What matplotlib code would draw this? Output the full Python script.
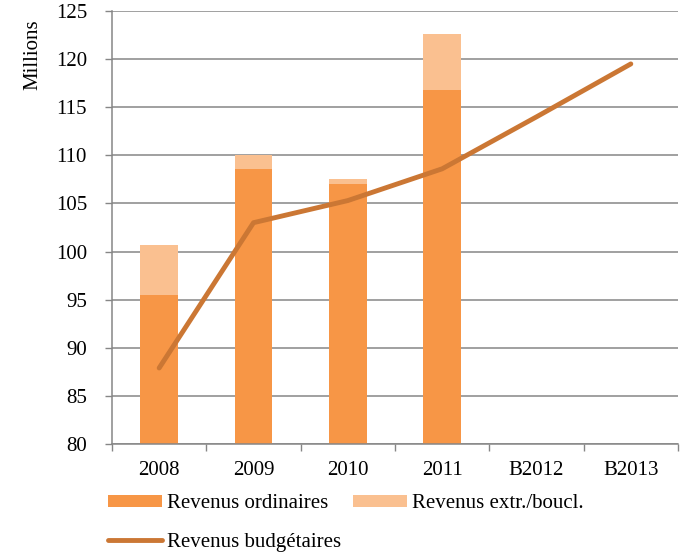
import matplotlib.pyplot as plt
import numpy as np

plt.rcParams['font.family'] = ['Liberation Serif', 'DejaVu Serif']

categories = ['2008', '2009', '2010', '2011', 'B2012', 'B2013']
ordinaires = [95.5, 108.6, 107.05, 116.8]
extraordinaires = [5.2, 1.4, 0.45, 5.85]
budgetaires = [87.9, 103.0, 105.3, 108.6, 114.0, 119.5]

fig = plt.figure(figsize=(6.8, 5.55), dpi=100)
ax = fig.add_axes([112 / 680, 1 - 444 / 555, 566 / 680, 433 / 555])

x = np.arange(len(categories))
xb = x[:len(ordinaires)]
base = 80
ax.bar(xb, np.array(ordinaires) - base, bottom=base, width=0.4,
       color='#F79646', label='Revenus ordinaires', zorder=2)
ax.bar(xb, extraordinaires, bottom=ordinaires, width=0.4,
       color='#FAC090', label='Revenus extr./boucl.', zorder=2)
ax.plot(x, budgetaires, color='#CB7734', lw=3.5, solid_capstyle='round',
        label='Revenus budgétaires', zorder=3)

ax.set_xlim(-0.5, len(categories) - 0.5)
ax.set_ylim(80, 125)
ax.set_yticks(range(80, 126, 5))
ax.set_xticks(x)
ax.set_xticklabels(categories)
ax.set_xticks(np.arange(-0.5, len(categories)), minor=True)
ax.tick_params(axis='x', which='major', length=0, pad=12, labelsize=15)
ax.tick_params(axis='x', which='minor', length=5, color='#868686', width=1)
ax.tick_params(axis='y', length=5, color='#868686', width=1, labelsize=15, pad=13)
ax.yaxis.grid(True, color='#868686', lw=1.1, zorder=0)
ax.set_axisbelow(True)
for s in ['top', 'right']:
    ax.spines[s].set_visible(False)
for s in ['left', 'bottom']:
    ax.spines[s].set_color('#868686')
    ax.spines[s].set_linewidth(1.1)

fig.text(33 / 680, 1 - 55 / 555, 'Millions', rotation=90, ha='center', va='center', fontsize=15)

h, l = ax.get_legend_handles_labels()
# colonne 1 : ordinaires + budgetaires, colonne 2 : extr.
order = [1, 0, 2]
fig.legend([h[i] for i in order], [l[i] for i in order], ncol=2,
           loc='upper left', bbox_to_anchor=(108 / 680, 1 - 494 / 555),
           frameon=False, fontsize=15, handlelength=2.6, handleheight=0.5,
           handletextpad=0.25, columnspacing=0.55, labelspacing=0.95,
           borderaxespad=0, borderpad=0)

fig.savefig('out.png', dpi=100)
